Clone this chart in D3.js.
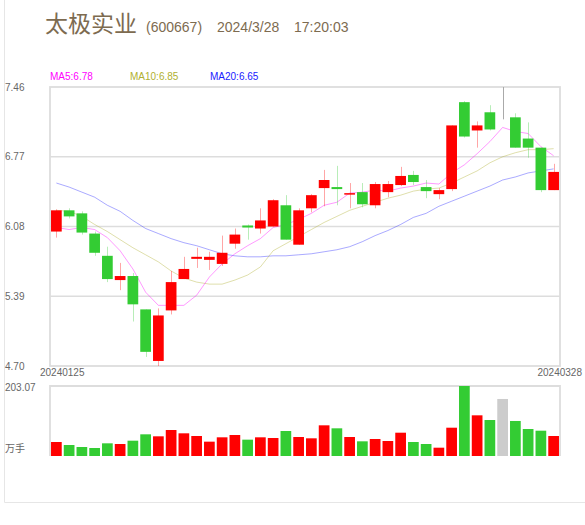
<!DOCTYPE html>
<html><head><meta charset="utf-8">
<script src="https://cdn.jsdelivr.net/npm/d3@7/dist/d3.min.js"></script>
<style>body{margin:0;background:#fff;}svg{display:block;}</style>
</head><body>
<svg id="c" width="585" height="525"></svg>
<script>
const dates = ["20240125","20240126","20240129","20240130","20240131","20240201","20240202","20240205","20240206","20240207","20240208","20240219","20240220","20240221","20240222","20240223","20240226","20240227","20240228","20240229","20240301","20240304","20240305","20240306","20240307","20240308","20240311","20240312","20240313","20240314","20240315","20240318","20240319","20240320","20240321","20240322","20240325","20240326","20240327","20240328"];
const openP  = [6.03,6.24,6.21,6.01,5.79,5.55,5.59,5.26,4.75,5.25,5.56,5.76,5.75,5.71,5.91,6.09,6.06,6.08,6.29,5.90,6.26,6.46,6.47,6.40,6.42,6.29,6.42,6.49,6.59,6.47,6.40,6.45,7.31,7.03,7.21,7.14,7.16,6.95,6.86,6.44];
const closeP = [6.24,6.18,6.02,5.82,5.56,5.59,5.31,4.84,5.20,5.53,5.66,5.78,5.78,5.82,6.00,6.07,6.14,6.34,5.95,6.24,6.39,6.54,6.45,6.41,6.30,6.50,6.50,6.58,6.52,6.43,6.44,7.08,6.97,7.08,7.04,7.14,6.86,6.86,6.44,6.62];
const highP  = [6.25,6.26,6.23,6.03,5.88,5.72,5.62,5.26,5.27,5.64,5.78,5.87,5.83,5.99,6.06,6.10,6.26,6.35,6.39,6.26,6.40,6.64,6.68,6.51,6.51,6.52,6.53,6.67,6.63,6.54,6.46,7.08,7.32,7.12,7.28,7.46,7.20,7.11,6.86,6.70];
const lowP   = [5.97,6.16,6.00,5.79,5.53,5.45,5.14,4.79,4.70,5.21,5.56,5.67,5.65,5.69,5.86,5.95,6.01,6.08,5.95,5.90,6.22,6.28,6.29,6.26,6.27,6.26,6.37,6.48,6.49,6.36,6.35,6.43,6.96,6.86,7.03,7.14,6.86,6.76,6.42,6.44];
const volume = [40.6,31.9,26.1,23.2,36.8,34.8,44.4,62.9,57.1,75.4,65.8,58.0,41.6,54.2,60.9,47.4,54.2,52.2,72.5,55.1,51.3,89.0,80.3,55.1,42.6,49.3,43.5,67.6,40.6,34.8,24.1,82.1,203.07,118.0,104.4,165.4,101.6,78.3,73.4,58.0];
const ma5  = [6.07,6.05,6.07,6.05,5.97,5.84,5.66,5.43,5.30,5.30,5.30,5.40,5.58,5.71,5.81,5.89,5.96,6.07,6.10,6.15,6.21,6.29,6.32,6.41,6.42,6.44,6.43,6.46,6.48,6.51,6.50,6.61,6.69,6.80,6.92,7.06,7.02,7.00,6.87,6.78];
const ma10 = [6.24,6.23,6.18,6.10,6.03,5.95,5.87,5.80,5.73,5.64,5.57,5.53,5.51,5.51,5.55,5.60,5.68,5.84,5.91,5.98,6.05,6.12,6.18,6.24,6.28,6.32,6.36,6.39,6.43,6.45,6.46,6.51,6.57,6.63,6.71,6.77,6.81,6.84,6.84,6.85];
const ma20 = [6.51,6.47,6.42,6.37,6.29,6.23,6.14,6.06,6.01,5.96,5.92,5.89,5.85,5.81,5.79,5.78,5.78,5.79,5.79,5.80,5.81,5.83,5.85,5.88,5.93,5.99,6.04,6.10,6.17,6.21,6.28,6.33,6.38,6.43,6.48,6.54,6.57,6.61,6.63,6.65];
const priceTicks = [7.46,6.77,6.08,5.39,4.70];
const volMax = 203.07;
const titleName = "太极实业", titleCode = "(600667)", titleDate = "2024/3/28", titleTime = "17:20:03";
const maLegend = [["MA5:6.78","#ff00ff"],["MA10:6.85","#b0b030"],["MA20:6.65","#1a1aff"]];

const svg = d3.select("#c");
const L = 50, R = 560, T = 87, B = 366, VT = 386, VB = 456;
const UP = "#ff0000", DOWN = "#33cc33", FLAT = "#aaaaaa", FLATVOL = "#cccccc";
const font = "'Liberation Sans', Arial, sans-serif";

// outer frame
svg.append("line").attr("x1",4.5).attr("x2",4.5).attr("y1",0).attr("y2",502.5).attr("stroke","#e6e6e6").attr("stroke-width",1);
svg.append("line").attr("x1",4.5).attr("x2",585).attr("y1",502.5).attr("y2",502.5).attr("stroke","#e6e6e6").attr("stroke-width",1);

// title
const tc = "#7d6b50";
svg.append("text").attr("x",45).attr("y",32).text(titleName).attr("font-family","'Noto Sans CJK SC', sans-serif").attr("font-size",23).attr("fill",tc);
svg.append("text").attr("x",146).attr("y",31.5).text(titleCode).attr("font-family",font).attr("font-size",14).attr("fill",tc);
svg.append("text").attr("x",217).attr("y",31.5).text(titleDate).attr("font-family",font).attr("font-size",14).attr("fill",tc);
svg.append("text").attr("x",294).attr("y",31.5).text(titleTime).attr("font-family",font).attr("font-size",14).attr("fill",tc);

const x = d3.scaleBand().domain(d3.range(dates.length)).range([L,R]).paddingInner(0.16).paddingOuter(0.08);
const cx = i => x(i) + x.bandwidth()/2;
const y = d3.scaleLinear().domain([priceTicks[priceTicks.length-1], priceTicks[0]]).range([B,T]);
const yv = d3.scaleLinear().domain([0, volMax]).range([VB,VT]);

// gridlines
svg.selectAll(".grid").data(priceTicks.slice(1,-1)).enter().append("line")
  .attr("x1",L).attr("x2",R).attr("y1",d=>y(d)).attr("y2",d=>y(d))
  .attr("stroke","#dddddd").attr("stroke-width",1.6);
svg.append("rect").attr("x",L).attr("y",T).attr("width",R-L).attr("height",B-T)
  .attr("fill","none").attr("stroke","#dddddd").attr("stroke-width",1.8);

// price axis labels
const yAxis = d3.axisLeft(y).tickValues(priceTicks).tickSize(0).tickFormat(d3.format(".2f"));
const ya = svg.append("g").attr("transform",`translate(${L},0)`).call(yAxis);
ya.select(".domain").remove();
ya.selectAll("text").attr("x",-45).attr("text-anchor","start").attr("font-family",font).attr("font-size",10).attr("fill","#666");

// x labels
const xl = [0, dates.length-1];
svg.append("text").attr("x",40).attr("y",376).text(dates[xl[0]]).attr("font-family",font).attr("font-size",10).attr("fill","#666");
svg.append("text").attr("x",582).attr("y",376).attr("text-anchor","end").text(dates[xl[1]]).attr("font-family",font).attr("font-size",10).attr("fill","#666");

// legend
const lx = [50,130,210];
maLegend.forEach((m,k)=>{
  svg.append("text").attr("x",lx[k]).attr("y",80).text(m[0]).attr("font-family",font).attr("font-size",10).attr("fill",m[1]);
});

const colorOf = i => closeP[i] > openP[i] ? UP : (closeP[i] < openP[i] ? DOWN : FLAT);
const volColorOf = i => closeP[i] > openP[i] ? UP : (closeP[i] < openP[i] ? DOWN : FLATVOL);
const idx = d3.range(dates.length);

// MA lines
const line = d3.line().x((d,i)=>cx(i)).y(d=>y(d));
[[ma20,"#2a2aff"],[ma10,"#b0b030"],[ma5,"#ff00ff"]].forEach(([arr,c])=>{
  svg.append("path").datum(arr).attr("d",line).attr("fill","none").attr("stroke",c).attr("stroke-opacity",0.4).attr("stroke-width",1);
});

// wicks
svg.selectAll(".wick").data(idx).enter().append("line")
  .attr("x1",i=>Math.round(cx(i))+0.5).attr("x2",i=>Math.round(cx(i))+0.5)
  .attr("y1",i=>y(highP[i])).attr("y2",i=>y(lowP[i]))
  .attr("stroke",i=>colorOf(i)).attr("stroke-opacity",i=>colorOf(i)===FLAT?1:0.35).attr("stroke-width",1);

// bodies
svg.selectAll(".body").data(idx.filter(i=>openP[i]!==closeP[i])).enter().append("rect")
  .attr("x",i=>x(i)).attr("width",x.bandwidth())
  .attr("y",i=>y(Math.max(openP[i],closeP[i])))
  .attr("height",i=>Math.max(1.5, Math.abs(y(openP[i])-y(closeP[i]))))
  .attr("fill",i=>colorOf(i));

// volume frame
svg.append("path").attr("d",`M${L},${VB}V${VT}H${R}V${VB}`).attr("fill","none").attr("stroke","#dddddd").attr("stroke-width",1.8);
svg.selectAll(".vol").data(idx).enter().append("rect")
  .attr("x",i=>x(i)).attr("width",x.bandwidth())
  .attr("y",i=>yv(volume[i])).attr("height",i=>VB-yv(volume[i]))
  .attr("fill",i=>volColorOf(i));
svg.append("text").attr("x",5).attr("y",391).text(d3.format(".2f")(volMax)).attr("font-family",font).attr("font-size",10).attr("fill","#666");
svg.append("text").attr("x",5).attr("y",452).text("万手").attr("font-family","'Noto Sans CJK SC', sans-serif").attr("font-size",10).attr("fill","#666");
</script>
</body></html>
